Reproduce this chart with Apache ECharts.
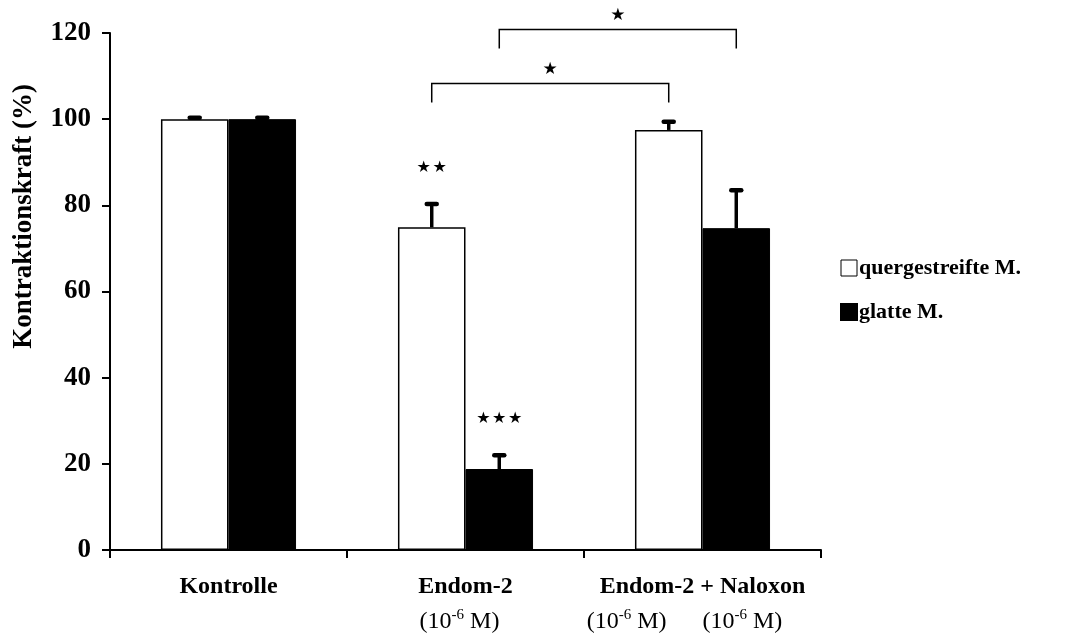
<!DOCTYPE html>
<html>
<head>
<meta charset="utf-8">
<script src="https://cdn.jsdelivr.net/npm/echarts@6/dist/echarts.min.js"></script>
<style>html,body{margin:0;padding:0;background:#fff;}#c{width:1072px;height:634px;}</style>
</head>
<body>
<div id="c"></div>
<script>
const categories = ['Kontrolle', 'Endom-2', 'Endom-2 + Naloxon'];
const concentrations = [[], ['-6'], ['-6', '-6']];
const seriesNames = ['quergestreifte M.', 'glatte M.'];
const quergestreifte = [100, 74.9, 97.5];
const quergestreifteErr = [0.3, 5.4, 1.9];
const glatte = [100, 18.8, 74.7];
const glatteErr = [0.3, 3.2, 8.8];
const quergestreifteSig = ['', '★★', ''];
const glatteSig = ['', '★★★', ''];
// [fromCategory, fromSeries, toCategory, toSeries, level, label]
const brackets = [
  [1, 0, 2, 0, 108.3, '★'],
  [1, 1, 2, 1, 120.8, '★']
];
const yMin = 0, yMax = 120, yInterval = 20;

const SERIF = "'Liberation Serif','Times New Roman',serif";
const STARF = "'DejaVu Sans',sans-serif";
const CAT_GAP = 0.43;

function barOffset(api, s) {
  const band = api.size([1, 0])[0];
  const w = band * (1 - CAT_GAP) / 2;
  return (s === 0 ? -1 : 1) * w / 2;
}

function errSeries(s, vals, errs, sigs) {
  return {
    type: 'custom',
    z: 5,
    silent: true,
    clip: false,
    data: vals.map((v, i) => [i, v, errs[i]]),
    encode: { x: 0, y: 1 },
    renderItem: function (params, api) {
      const i = api.value(0), v = api.value(1), e = api.value(2);
      const off = barOffset(api, s);
      const b = api.coord([i, v]);
      const t = api.coord([i, v + e]);
      const x = b[0] + off;
      const children = [
        { type: 'line', shape: { x1: x, y1: b[1], x2: x, y2: t[1] }, style: { stroke: '#000', lineWidth: 3.5 } },
        { type: 'line', shape: { x1: x - 5, y1: t[1], x2: x + 5, y2: t[1] }, style: { stroke: '#000', lineWidth: 4.5, lineCap: 'round' } }
      ];
      const sig = sigs[params.dataIndex];
      if (sig) {
        children.push({ type: 'text', style: { text: sig.split('').join('\u200A'), x: x, y: t[1] - 36, align: 'center', verticalAlign: 'middle', font: '16px ' + STARF, fill: '#000' } });
      }
      return { type: 'group', children: children };
    }
  };
}

const chart = echarts.init(document.getElementById('c'), null, { renderer: 'canvas' });
chart.setOption({
  animation: false,
  backgroundColor: '#fff',
  grid: { left: 110, right: 251, top: 33, bottom: 84 },
  legend: {
    orient: 'vertical',
    left: 835,
    top: 252,
    itemWidth: 16,
    itemHeight: 16,
    itemGap: 22,
    icon: 'rect',
    textStyle: { fontFamily: SERIF, fontWeight: 'bold', fontSize: 22, color: '#000', padding: [0, 0, 0, -3] },
    data: [
      { name: seriesNames[0], itemStyle: { color: '#fff', borderColor: '#000', borderWidth: 1 } },
      { name: seriesNames[1], itemStyle: { color: '#000' } }
    ]
  },
  xAxis: {
    type: 'category',
    data: categories,
    axisLine: { lineStyle: { color: '#000', width: 2 } },
    axisTick: { show: true, length: 8, lineStyle: { color: '#000', width: 2 } },
    axisLabel: {
      margin: 19,
      interval: 0,
      formatter: function (v, i) {
        let s = '{a|' + v + '}';
        const c = concentrations[i];
        if (c.length) {
          s += '\n' + c.map(p => '{b|(10}{sup|' + p + '}{b| M)}').join('{b|      }') + (c.length > 1 ? '{b|      }' : '{b|  }');
        }
        return s;
      },
      rich: {
        a: { fontFamily: SERIF, fontWeight: 'bold', fontSize: 24, color: '#000', lineHeight: 35 },
        b: { fontFamily: SERIF, fontSize: 24, color: '#000', lineHeight: 35 },
        sup: { fontFamily: SERIF, fontSize: 15, color: '#000', lineHeight: 35, verticalAlign: 'top', padding: [4, 0, 0, 0] }
      }
    }
  },
  yAxis: {
    type: 'value',
    min: yMin,
    max: yMax,
    interval: yInterval,
    splitLine: { show: false },
    axisLine: { show: true, lineStyle: { color: '#000', width: 2 } },
    axisTick: { show: true, length: 8, lineStyle: { color: '#000', width: 2 } },
    axisLabel: { margin: 19, fontFamily: SERIF, fontWeight: 'bold', fontSize: 27, color: '#000' }
  },
  graphic: [{
    type: 'text',
    left: 11,
    top: 84,
    rotation: Math.PI / 2,
    style: { text: 'Kontraktionskraft (%)', font: 'bold 27px ' + SERIF, fill: '#000' }
  }],
  series: [
    {
      name: seriesNames[0], type: 'bar', data: quergestreifte,
      barGap: '0%', barCategoryGap: (CAT_GAP * 100) + '%',
      itemStyle: { color: '#fff', borderColor: '#000', borderWidth: 1.5 }
    },
    {
      name: seriesNames[1], type: 'bar', data: glatte,
      barGap: '0%', barCategoryGap: (CAT_GAP * 100) + '%',
      itemStyle: { color: '#000', borderColor: '#000', borderWidth: 1 }
    },
    errSeries(0, quergestreifte, quergestreifteErr, quergestreifteSig),
    errSeries(1, glatte, glatteErr, glatteSig),
    {
      type: 'custom',
      z: 5,
      silent: true,
      clip: false,
      data: brackets.map(b => [b[0], b[4], b[2], b[1], b[3]]),
      encode: { x: 0, y: 1 },
      renderItem: function (params, api) {
        const b = brackets[params.dataIndex];
        const p1 = api.coord([b[0], b[4]]);
        const p2 = api.coord([b[2], b[4]]);
        const x1 = p1[0] + barOffset(api, b[1]);
        const x2 = p2[0] + barOffset(api, b[3]);
        const y = p1[1];
        const drop = 19;
        return {
          type: 'group',
          children: [
            { type: 'polyline', shape: { points: [[x1, y + drop], [x1, y], [x2, y], [x2, y + drop]] }, style: { stroke: '#000', lineWidth: 1.5, fill: null } },
            { type: 'text', style: { text: b[5], x: (x1 + x2) / 2, y: y - 14, align: 'center', verticalAlign: 'middle', font: '17px ' + STARF, fill: '#000' } }
          ]
        };
      }
    }
  ]
});
</script>
</body>
</html>
